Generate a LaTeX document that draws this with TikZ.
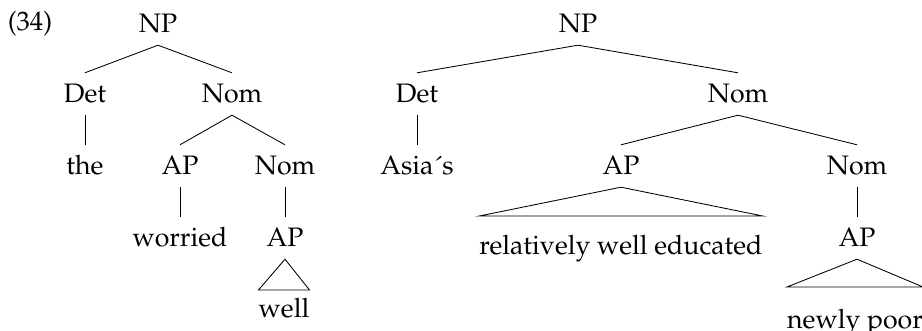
\documentclass[tikz,border=0pt]{standalone}
\usepackage[T1]{fontenc}
\usepackage{mathpazo}
\usetikzlibrary{calc}
\begin{document}
\begin{tikzpicture}[x=1pt,y=-1pt,
  every node/.style={font=\fontsize{26.7}{32}\selectfont},
  tn/.style={inner sep=0pt, text height=30pt, text depth=12pt, anchor=base},
  leaf/.style={inner sep=0pt, anchor=base},
  edge/.style={line width=0.85pt}]
\useasboundingbox (0,0) rectangle (922,331);
\node[leaf] (ex) at (30,31) {(34)};
% left tree
\node[tn] (np1) at (158,33) {NP};
\node[tn] (det1) at (85,103) {Det};
\node[tn] (nom1) at (232,103) {Nom};
\node[tn] (the) at (85,175) {the};
\node[tn] (ap1) at (180,175) {AP};
\node[tn] (nom2) at (285,175) {Nom};
\node[tn] (worried) at (180,247) {worried};
\node[tn] (ap2) at (285,247) {AP};
\node[leaf] (well) at (284,318) {well};
\draw[edge] (np1.south) -- (det1.north);
\draw[edge] (np1.south) -- (nom1.north);
\draw[edge] (det1.south) -- (the.north);
\draw[edge] (nom1.south) -- (ap1.north);
\draw[edge] (nom1.south) -- (nom2.north);
\draw[edge] (ap1.south) -- (worried.north);
\draw[edge] (nom2.south) -- (ap2.north);
\draw[edge] (ap2.south) -- ($(well.base west)+(0,-28)$) -- ($(well.base east)+(0,-28)$) -- cycle;
% right tree
\node[tn] (np2) at (578,33) {NP};
\node[tn] (det2) at (417,103) {Det};
\node[tn] (nom3) at (738,103) {Nom};
\node[tn] (asia) at (417,175) {Asia\'{}s};
\node[tn] (ap3) at (621,175) {AP};
\node[tn] (nom4) at (857,175) {Nom};
\node[leaf] (rel) at (621,255) {relatively well educated};
\node[tn] (ap4) at (857,247) {AP};
\node[leaf] (poor) at (855,329) {newly poor};
\draw[edge] (np2.south) -- (det2.north);
\draw[edge] (np2.south) -- (nom3.north);
\draw[edge] (det2.south) -- (asia.north);
\draw[edge] (nom3.south) -- (ap3.north);
\draw[edge] (nom3.south) -- (nom4.north);
\draw[edge] (ap3.south) -- ($(rel.base west)+(0,-39)$) -- ($(rel.base east)+(0,-39)$) -- cycle;
\draw[edge] (nom4.south) -- (ap4.north);
\draw[edge] (ap4.south) -- ($(poor.base west)+(0,-42)$) -- ($(poor.base east)+(0,-42)$) -- cycle;
\end{tikzpicture}
\end{document}
